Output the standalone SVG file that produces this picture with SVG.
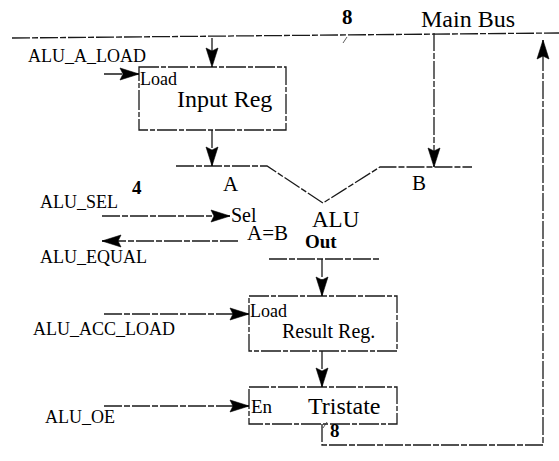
<svg xmlns="http://www.w3.org/2000/svg" width="559" height="461" viewBox="0 0 559 461" font-family="'Liberation Serif', 'Times New Roman', serif">
<defs>
<marker id="ah" markerUnits="userSpaceOnUse" markerWidth="22" markerHeight="14" refX="19" refY="6" orient="auto" overflow="visible">
<path d="M0,0 L19,6 L0,12 L3,6 Z" fill="#000" stroke="#000" stroke-width="0.6"/>
</marker>
<style>
.ln{fill:none;stroke:#1a1a1a;stroke-width:1.3;stroke-dasharray:18 2 6 2}
.bx{fill:#fff;stroke:#1a1a1a;stroke-width:1.3;stroke-dasharray:20 2 5 2}
.ar{fill:none;stroke:#1a1a1a;stroke-width:1.3;stroke-dasharray:18 2 6 2;marker-end:url(#ah)}
text{font-family:'Liberation Serif','Times New Roman',serif;fill:#000}
.sig{font-size:18px}
.b{font-weight:bold}
</style>
</defs>
<rect width="559" height="461" fill="#fff"/>
<g id="main_bus">
<line class="ln" x1="12" y1="38" x2="559" y2="33"/>
<text x="421" y="27" font-size="24">Main Bus</text>
<text x="342" y="24" font-size="21" class="b">8</text>
<line x1="343" y1="43" x2="347" y2="37" stroke="#333" stroke-width="0.8"/>
</g>
<g id="input_reg">
<rect class="bx" x="139" y="67" width="147" height="63"/>
<text x="140" y="85" font-size="18">Load</text>
<text x="177" y="107" font-size="24">Input Reg</text>
</g>
<g id="alu">
<polyline class="ln" points="176,166 267,166 323,203 380,167 472,167"/>
<text x="223" y="191" font-size="21">A</text>
<text x="412" y="190" font-size="21">B</text>
<text x="231" y="222" font-size="20">Sel</text>
<text x="247" y="240" font-size="21">A=B</text>
<text x="312" y="227" font-size="23">ALU</text>
<text x="305" y="248" font-size="19" class="b">Out</text>
<line class="ln" x1="269" y1="259" x2="380" y2="259"/>
</g>
<g id="result_reg">
<rect class="bx" x="249" y="296" width="148" height="55"/>
<text x="250" y="317" font-size="18">Load</text>
<text x="282" y="338" font-size="20">Result Reg.</text>
</g>
<g id="tristate">
<rect class="bx" x="249" y="387" width="148" height="37"/>
<text x="251" y="413" font-size="19">En</text>
<text x="308" y="414" font-size="24">Tristate</text>
</g>
<g id="connectors">
<line class="ar" x1="212" y1="38" x2="212" y2="67"/>
<line class="ar" x1="212" y1="130" x2="212" y2="166"/>
<line class="ar" x1="434" y1="33" x2="434" y2="167"/>
<line class="ar" x1="104" y1="74" x2="139" y2="74"/>
<line class="ar" x1="102" y1="216" x2="230" y2="216"/>
<line class="ar" x1="238" y1="241" x2="102" y2="241"/>
<line class="ar" x1="322" y1="259" x2="322" y2="296"/>
<line class="ar" x1="104" y1="314" x2="249" y2="314"/>
<line class="ar" x1="322" y1="351" x2="322" y2="387"/>
<line class="ar" x1="104" y1="406" x2="249" y2="406"/>
<polyline class="ar" points="322,424 322,445 543,445 543,40"/>
<line x1="323" y1="428" x2="327" y2="422" stroke="#333" stroke-width="0.8"/>
<text x="330" y="437" font-size="19" class="b">8</text>
<text x="132" y="194" font-size="19" class="b">4</text>
</g>
<g id="labels">
<text class="sig" x="28" y="62">ALU_A_LOAD</text>
<text class="sig" x="40" y="208">ALU_SEL</text>
<text class="sig" x="40" y="263">ALU_EQUAL</text>
<text class="sig" x="33" y="335">ALU_ACC_LOAD</text>
<text class="sig" x="45" y="423">ALU_OE</text>
</g>
</svg>
